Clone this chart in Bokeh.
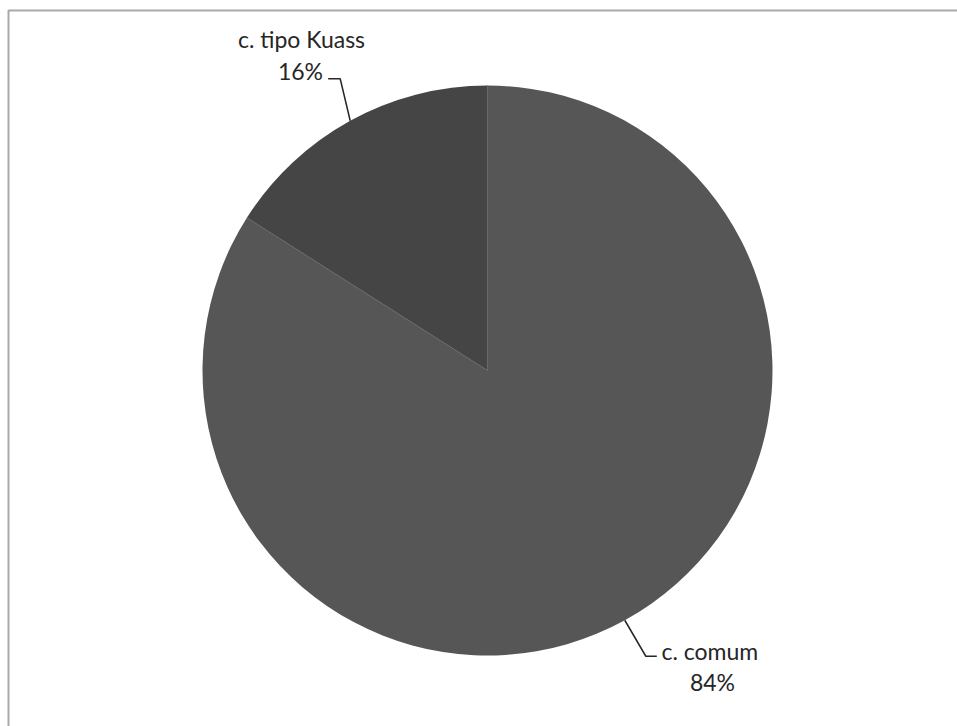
import math
from bokeh.plotting import figure
from bokeh.models import Range1d, ColumnDataSource
from bokeh.core.properties import value
from bokeh.embed import file_html
from bokeh.resources import INLINE

# ---- data ----
categories = ["c. comum", "c. tipo Kuass"]
percents = [84, 16]
colors = ["#565656", "#454545"]

W, H = 957, 726
CX, CY, R = 487, 370, 285  # pixel layout of the pie (y measured from top)

def Y(y):
    return H - y

p = figure(width=W, height=H, x_range=Range1d(0, W), y_range=Range1d(0, H),
           output_backend="svg", toolbar_location=None, min_border=0,
           outline_line_color=None, background_fill_color="white")
p.axis.visible = False
p.grid.visible = False

# frame border (cropped at right/bottom like reference)
p.quad(left=[8], right=[W + 20], top=[Y(10)], bottom=[Y(H + 20)],
       fill_color=None, line_color="#a9a9a9", line_width=2)

# wedges: start at 12 o'clock, clockwise
total = sum(percents)
starts, ends, mids = [], [], []
a = math.pi / 2
for v in percents:
    sweep = v / total * 2 * math.pi
    starts.append(a)
    ends.append(a - sweep)
    mids.append(a - sweep / 2)
    a -= sweep

src = ColumnDataSource(dict(x=[CX] * len(percents), y=[Y(CY)] * len(percents),
                            start=starts, end=ends, color=colors, cat=categories))
p.wedge(x="x", y="y", radius=R, start_angle="start", end_angle="end",
        direction="clock", fill_color="color", line_color=None, source=src)

# faint separators between slices
p.segment(x0=[CX] * len(starts), y0=[Y(CY)] * len(starts),
          x1=[CX + R * math.cos(s) for s in starts],
          y1=[Y(CY - R * math.sin(s)) for s in starts],
          line_color="#686868", line_width=1)

font = value("Lato")
FS = "23px"

# leader lines + labels
lab_cfg = {
    "c. comum": dict(bend=(21, 36), end=(11, 0), text_x=661, align="left",
                     l1_y=650, l2_x=712, l2_y=681),
    "c. tipo Kuass": dict(bend=(-10, -42), end=(-12, 0), text_x=301, align="center",
                          l1_y=38, l2_x=300, l2_y=70),
}
for cat, pct, mid in zip(categories, percents, mids):
    cfg = lab_cfg[cat]
    sx = CX + R * math.cos(mid)
    sy = CY - R * math.sin(mid)
    bx = sx + cfg["bend"][0]
    by = sy + cfg["bend"][1]
    ex = bx + cfg["end"][0]
    ey = by + cfg["end"][1]
    p.line([sx, bx, ex], [Y(sy), Y(by), Y(ey)], line_color="#262626", line_width=1.5)
    p.text(x=[cfg["text_x"]], y=[Y(cfg["l1_y"])], text=[cat], text_align=cfg["align"],
           text_baseline="middle", text_font=font, text_font_size=FS,
           text_color="#262626")
    p.text(x=[cfg["l2_x"]], y=[Y(cfg["l2_y"])], text=[f"{pct}%"], text_align="center",
           text_baseline="middle", text_font=font, text_font_size=FS,
           text_color="#262626")

open("out.html", "w").write(file_html(p, INLINE))
